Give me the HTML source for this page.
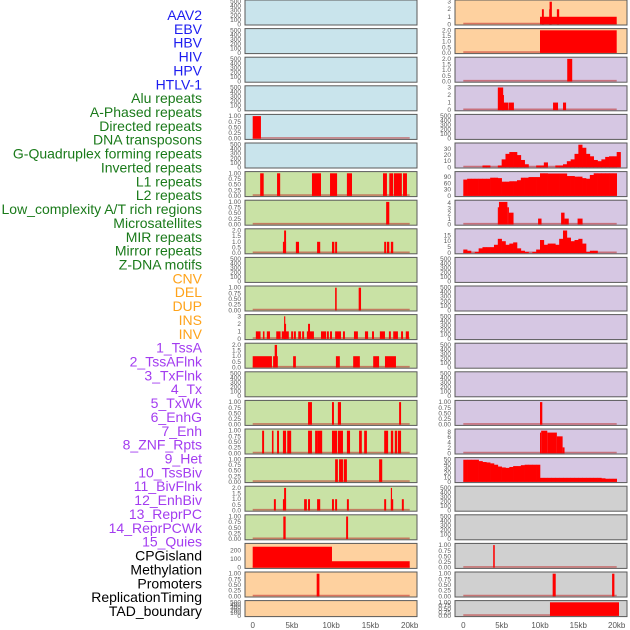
<!DOCTYPE html>
<html><head><meta charset="utf-8"><style>
body{margin:0;background:#fff;}
svg{display:block;font-family:"Liberation Sans",sans-serif;}
</style></head><body>
<svg id="chart" width="630" height="630" viewBox="0 0 630 630"></svg>
<script>
const trackLabels=["AAV2","EBV","HBV","HIV","HPV","HTLV-1","Alu repeats","A-Phased repeats","Directed repeats","DNA transposons","G-Quadruplex forming repeats","Inverted repeats","L1 repeats","L2 repeats","Low_complexity A/T rich regions","Microsatellites","MIR repeats","Mirror repeats","Z-DNA motifs","CNV","DEL","DUP","INS","INV","1_TssA","2_TssAFlnk","3_TxFlnk","4_Tx","5_TxWk","6_EnhG","7_Enh","8_ZNF_Rpts","9_Het","10_TssBiv","11_BivFlnk","12_EnhBiv","13_ReprPC","14_ReprPCWk","15_Quies","CPGisland","Methylation","Promoters","ReplicationTiming","TAD_boundary"];
const labelGroups=[6,13,5,15,5];
const kbTicks=[0,5,10,15,20];
const kbTickLabels=["0","5kb","10kb","15kb","20kb"];
const ticks500=[0,100,200,300,400,500];
const ticks1=[0,0.25,0.5,0.75,1];
const ticks2=[0,0.5,1,1.5,2];
const ticks3=[0,1,2,3];
// segments [startKb, endKb, value]
const segL4=[[0,1.05,1]];
const segL6=[[0.95,1.4,1],[3.1,3.5,1],[7.55,8.7,1],[9.85,10.75,1],[12.0,12.65,1],[16.6,17.1,1],[17.4,17.9,1],[18.0,19.0,1],[19.15,19.65,1]];
const segL7=[[17.0,17.4,1]];
const segL8=[[3.85,4.25,1],[4.0,4.25,2],[5.5,5.9,1],[8.2,8.6,1],[10.1,10.4,1],[10.5,10.75,1],[16.75,17.0,1],[17.1,17.4,1],[17.6,17.9,1]];
const segL10=[[10.5,10.7,1],[13.5,13.8,1]];
const segL11=[[0.4,1.0,1],[1.3,1.5,1],[1.8,2.2,1],[3.0,3.55,1],[3.7,4.6,1],[4.0,4.25,2],[4.0,4.15,3],[4.9,5.15,1],[5.25,5.5,1],[5.8,6.15,1],[6.3,6.55,1],[6.9,7.8,1],[7.05,7.3,2],[8.7,9.35,1],[9.45,9.7,1],[9.85,10.1,1],[10.5,11.25,1],[11.5,11.75,1],[12.9,13.4,1],[14.3,14.7,1],[15.2,15.45,1],[16.2,16.85,1],[17.35,17.6,1],[17.9,18.5,1],[18.9,19.15,1],[19.5,19.9,1]];
const segL12=[[0,2.45,1],[2.6,3.2,1],[2.8,3.1,2],[5.15,5.5,1],[10.6,11.1,1],[12.8,13.65,1],[15.35,16.1,1],[16.85,18.25,1]];
const segL14=[[7.05,7.55,1],[10.1,10.35,1],[10.85,11.25,1],[18.65,18.9,1]];
const segL15=[[1.2,1.45,1],[2.45,2.65,1],[3.1,3.35,1],[3.85,4.25,1],[4.4,4.9,1],[7.05,7.55,1],[7.95,8.2,1],[8.2,8.85,1],[10.1,10.75,1],[10.85,11.5,1],[12.0,12.4,1],[13.55,13.9,1],[14.2,14.55,1],[16.75,17.25,1],[17.6,17.9,1],[18.1,18.4,1],[18.5,18.9,1]];
const segL16=[[10.5,10.85,1],[11.0,11.5,1],[11.6,12.0,1],[16.1,16.5,1]];
const segL17=[[2.7,2.95,1],[3.85,4.25,1],[4.0,4.25,2],[6.55,6.9,1],[7.05,7.3,1],[8.2,8.6,1],[10.1,10.35,1],[10.5,10.75,1],[12.0,12.25,1],[16.75,17.0,1],[17.6,17.9,1],[17.6,17.75,2],[19.0,19.25,1]];
const segL18=[[3.9,4.2,1],[11.9,12.15,1]];
const segL19=[[0,10.1,243],[10.1,20,75]];
const segL20=[[8.15,8.5,1]];
const segR0=[[10,20,1],[10.25,10.5,2],[11.2,11.45,2],[11.25,11.55,3],[12.2,12.5,2]];
const segR1=[[10,20,2]];
const segR2=[[13.55,14.2,2]];
const segR3=[[4.5,5.2,3],[5.05,5.3,2],[5.2,5.9,1],[5.96,6.6,1],[11.7,12.35,1],[13.0,13.4,1]];
const segR7=[[4.5,4.65,3.2],[4.65,5.75,4.2],[5.75,5.95,3.2],[5.95,6.55,2.2],[9.75,10.2,1.1],[12.75,13.2,2.2],[13.2,13.75,1.1],[14.9,15.55,1.1]];
const segR14=[[10.0,10.3,1]];
const segR15=[[10,10.15,7.7],[10.15,10.95,8.4],[10.95,12.2,7.7],[12.2,12.95,6.3],[12.95,13.2,2.2]];
const segR19=[[3.9,4.1,1]];
const segR20=[[11.65,12.05,1],[19.4,19.7,1]];
const segR21=[[11.3,20.3,1]];
// profiles in 0.5kb bins starting at 0
const profGquad=[0,0,0,0,0,3,3,0,0,3,13,22,25,25,20,12,5,0,0,3,3,8,0,0,3,3,5,10,13,22,37,32,22,18,12,10,13,17,18,18,25];
const profL1=[78,82,82,82,82,82,82,87,87,85,68,68,70,70,75,87,87,90,90,90,108,108,107,107,107,107,107,95,95,92,92,85,82,100,108,108,108,108,108,108];
const profMIR=[3,2,0,1,4,5,5,5,7,12,10,7,8,9,4,2,1,0,1,3,11,7,8,8,7,12,19,13,10,11,12,8,1,2,2,0,0,0,0,0];
const profHet=[49,49,49,49,46,44,43,41,38,34,32,31,33,35,35,37,38,38,38,38,9,9,9,9,9,9,9,9,9,9,9,9,9,9,9,9,8,7,7,7];

const NS="http://www.w3.org/2000/svg";
const svg=document.getElementById("chart");
function mk(tag,attrs,parent){const e=document.createElementNS(NS,tag);for(const k in attrs)e.setAttribute(k,attrs[k]);(parent||svg).appendChild(e);return e;}

const groupColors=["#1c1cf0","#1a7a1a","#ffa31a","#a33cf0","#000000"];
let gi=0,cnt=0;
trackLabels.forEach((t,i)=>{
  while(cnt>=labelGroups[gi]){gi++;cnt=0;}
  cnt++;
  const el=mk("text",{x:202,y:15+i*13.86+5,"text-anchor":"end","font-size":"14",fill:groupColors[gi]});
  el.textContent=t;
  
  
});

const colL={x0:245,w:172,kb0:252.7,kbs:7.85};
const colR={x0:455,w:172,kb0:463.3,kbs:7.67};
const bgBlue="#c9e4ec",bgGreen="#c9e2a5",bgOrange="#fed19f",bgPurple="#d6c7e3",bgGrey="#d0d0d0";
function fmt(v,ticks){
  if(ticks===ticks1) return v.toFixed(2);
  if(ticks===ticks2) return v.toFixed(1);
  return String(v);
}
const panels=[];
for(let r=0;r<22;r++){
  panels.push({col:colL,row:r,bg:r<6?bgBlue:(r<19?bgGreen:bgOrange)});
  panels.push({col:colR,row:r,bg:r<2?bgOrange:(r<17?bgPurple:bgGrey)});
}
const dataL={4:[segL4,null,1,ticks1],6:[segL6,null,1,ticks1],7:[segL7,null,1,ticks1],8:[segL8,null,2,ticks2],10:[segL10,null,1,ticks1],11:[segL11,null,3,ticks3],12:[segL12,null,2,ticks2],14:[segL14,null,1,ticks1],15:[segL15,null,1,ticks1],16:[segL16,null,1,ticks1],17:[segL17,null,2,ticks2],18:[segL18,null,1,ticks1],19:[segL19,null,262,[0,100,200]],20:[segL20,null,1,ticks1]};
const dataR={0:[segR0,null,3,ticks3],1:[segR1,null,2,ticks2],2:[segR2,null,2,ticks2],3:[segR3,null,3,ticks3],5:[null,profGquad,37,[0,10,20,30]],6:[null,profL1,108,[0,30,60,90]],7:[segR7,null,4.2,[0,1,2,3,4]],8:[null,profMIR,19,[0,5,10,15]],14:[segR14,null,1,ticks1],15:[segR15,null,8.4,[0,2,4,6,8]],16:[null,profHet,50,[0,10,20,30,40,50]],19:[segR19,null,1,ticks1],20:[segR20,null,1,ticks1],21:[segR21,null,1,ticks1]};

panels.forEach(p=>{
  const c=p.col;
  const top=p.row*28.6, h=p.row===21?16:25;
  const d=(c===colL?dataL:dataR)[p.row];
  const g=mk("g",{});
  
  
  const bg=mk("rect",{x:c.x0,y:top,width:c.w,height:h,fill:p.bg,stroke:"#5a5a5a","stroke-width":"1"},g);
  
  
  const y0=top+h-0.7, ytop=top+1.7;
  const ymax=d?d[2]:500, ticks=d?d[3]:ticks500;
  const ys=v=>y0-(v/ymax)*(y0-ytop);
  const xs=kb=>c.kb0+kb*c.kbs;
  ticks.forEach(t=>{
    const tl=mk("text",{x:c.x0-4,y:ys(t)+2,"text-anchor":"end","font-size":"6.5",fill:"#5a5a5a"},g);
    tl.textContent=fmt(t,ticks);
    
    
  });
  if(!d) return;
  const bl=mk("line",{x1:xs(0),x2:xs(20),y1:y0-0.8,y2:y0-0.8,stroke:"rgba(190,40,40,0.55)","stroke-width":"1.6"},g);
  
  
  if(d[0]) d[0].forEach(s=>{
    const b=mk("rect",{x:xs(s[0]),y:ys(s[2]),width:Math.max(1,xs(s[1])-xs(s[0])),height:y0-ys(s[2]),fill:"#ff0000"},g);
    
    
  });
  if(d[1]) d[1].forEach((v,k)=>{
    if(v<=0) return;
    const b=mk("rect",{x:xs(k*0.5),y:ys(v),width:xs(0.5)-xs(0)+0.3,height:y0-ys(v),fill:"#ff0000"},g);
    
    
  });
});
[colL,colR].forEach(c=>{
  kbTicks.forEach((k,i)=>{
    const t=mk("text",{x:c.kb0+k*c.kbs,y:628,"text-anchor":"middle","font-size":"8",fill:"#555"});
    t.textContent=kbTickLabels[i];
    
    
  });
});
</script>
</body></html>
